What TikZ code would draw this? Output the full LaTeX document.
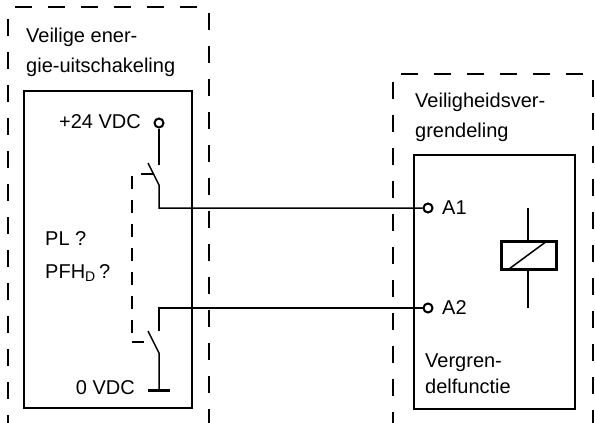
\documentclass[tikz,border=0pt]{standalone}
\usepackage{fontspec}
\setmainfont{Liberation Sans}
\begin{document}
\begin{tikzpicture}[x=1pt,y=-1pt,
  outer/.style={line width=2.3pt, dash pattern=on 17pt off 16pt},
  box/.style={line width=1.6pt},
  wire/.style={line width=1.5pt},
  term/.style={circle, draw, line width=2pt, minimum size=9pt, inner sep=0pt, fill=white},
  lbl/.style={anchor=base west, inner sep=0pt, font=\fontsize{20}{22}\selectfont},
  lblr/.style={anchor=base east, inner sep=0pt, font=\fontsize{20}{22}\selectfont},
  link/.style={line width=1.5pt, dash pattern=on 13pt off 11pt},
  thick bar/.style={line width=3pt}]
\useasboundingbox (0,0) rectangle (595,423);
% outer dashed boxes
\draw[outer] (15,7) -- (205,7);
\draw[outer] (8,19) -- (8,440);
\draw[outer] (209,13) -- (209,440);
\draw[outer] (401,74) -- (595,74);
\draw[outer] (393,82) -- (393,440);
\draw[outer] (593,80) -- (593,440);
% inner boxes
\draw[box] (24,91) rectangle (192,408);
\draw[box] (414,155) rectangle (575,409);
% labels
\node[lbl] (l1) at (26,42) {Veilige ener-};
\node[lbl] (l2) at (26,72) {gie-uitschakeling};
\node[lblr] (v24) at (141,128) {+24 VDC};
\node[lbl] (pl) at (45,245) {PL ?};
\node[lbl] (pfh) at (45,278) {PFH\textsubscript{D}\,?};
\node[lblr] (v0) at (135,394) {0 VDC};
\node[lbl] (r1) at (415,107) {Veiligheidsver-};
\node[lbl] (r2) at (415,137) {grendeling};
\node[lbl] (a1l) at (442,214) {A1};
\node[lbl] (a2l) at (442,314) {A2};
\node[lbl] (f1) at (425,367) {Vergren-};
\node[lbl] (f2) at (425,393) {delfunctie};
% terminals
\node[term] (t24) at (159,123) {};
\node[term] (A1) at (428,208) {};
\node[term] (A2) at (428,308) {};
% upper switch
\coordinate (s1a) at (159,165);
\coordinate (s1b) at (148,163);
\coordinate (s1p) at (159,185);
\coordinate (s1c) at (159,208);
\draw[wire] (t24) -- (s1a);
\draw[wire] (s1b) -- (s1p) -- (s1c) -- (A1);
\coordinate (k1a) at (141,174);
\coordinate (k1b) at (153.5,174);
\draw[wire] (k1a) -- (k1b);
% lower switch
\coordinate (s2c) at (159,308);
\coordinate (s2a) at (159,331);
\coordinate (s2b) at (148,331);
\coordinate (s2p) at (159,353);
\coordinate (g) at (159,390);
\draw[wire] (A2) -- (s2c) -- (s2a);
\draw[wire] (s2b) -- (s2p) -- (g);
\coordinate (g1) at (148,390);
\coordinate (g2) at (170,390);
\draw[thick bar] (g1) -- (g2);
% mechanical link
\coordinate (m1) at (132,176);
\coordinate (m2) at (132,342);
\coordinate (m3) at (144,342);
\draw[link] (m1) -- (m2);
\draw[wire] (m2) -- (m3);
% relay coil
\coordinate (c1) at (528,208);
\coordinate (c2) at (528,308);
\draw[wire] (c1) -- (c2);
\draw[thick bar, fill=white] (501,241) rectangle (556,269);
\coordinate (d1) at (509,269);
\coordinate (d2) at (547,241);
\draw[wire] (d1) -- (d2);
\end{tikzpicture}
\end{document}
